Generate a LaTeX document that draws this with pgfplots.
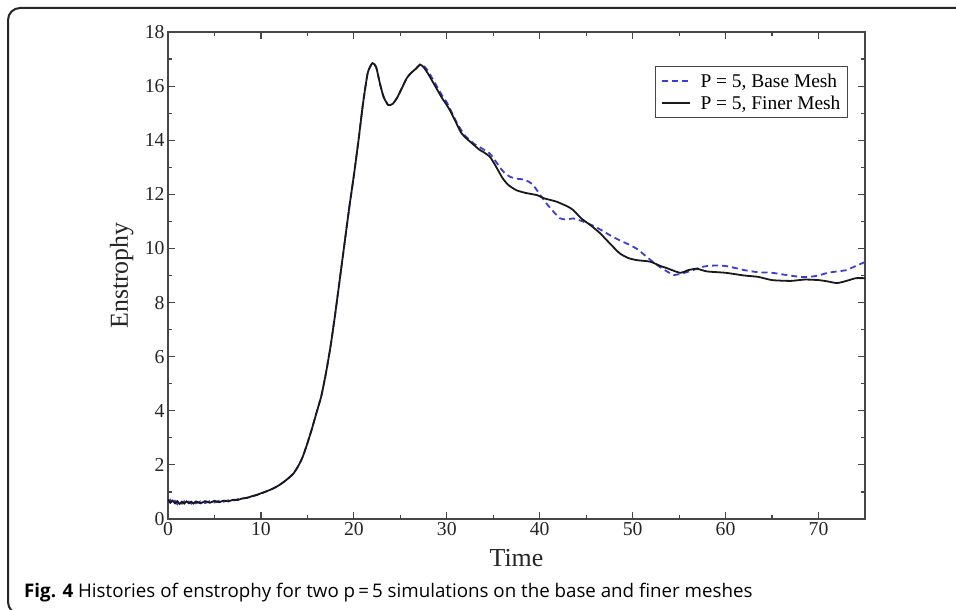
\documentclass[border=0pt]{standalone}
\usepackage{fontspec}
\setmainfont{Liberation Serif}
\newfontfamily\capfont{Open Sans}
\usepackage{pgfplots}
\pgfplotsset{compat=1.18}
\definecolor{baseblue}{RGB}{60,60,215}
\definecolor{axgray}{RGB}{70,70,70}
\begin{document}
\begin{tikzpicture}
\useasboundingbox (0bp,0bp) rectangle (956bp,610bp);
\begin{scope}
\clip (0bp,0bp) rectangle (956bp,610bp);
\draw[line width=2bp, color=black!85, rounded corners=12bp] (970bp,602bp) -- (8bp,602bp) -- (8bp,-4bp) -- (100bp,-4bp);
\end{scope}
\begin{axis}[
  at={(168bp,91bp)}, anchor=south west,
  width=697bp, height=487bp, scale only axis,
  xmin=0, xmax=75, ymin=0, ymax=18,
  xtick={0,10,...,70}, ytick={0,2,...,18},
  minor x tick num=1, minor y tick num=1,
  tick align=inside,
  major tick length=7bp, minor tick length=4bp,
  axis line style={axgray, line width=1.4bp},
  every tick/.style={axgray, line width=1.2bp},
  tick label style={font=\fontsize{19.8}{20}\selectfont, color=black!85},
  /pgf/number format/assume math mode=true,
  xlabel={Time}, ylabel={Enstrophy},
  label style={font=\fontsize{26}{26}\selectfont, color=black!85},
  xlabel style={at={(axis description cs:0.5,0)}, anchor=base, yshift=-47bp},
  ylabel style={at={(axis description cs:-0.0574,0.5)}, anchor=base},
  legend style={at={(rel axis cs:0.699,0.93)}, anchor=north west, draw=axgray, line width=1bp,
    font=\fontsize{19.5}{20}\selectfont, inner xsep=5bp, inner ysep=5bp, row sep=3bp,
    /tikz/every odd column/.append style={column sep=8bp}},
  legend cell align=left,
  legend image code/.code={\draw[#1] (0bp,0bp) -- (28bp,0bp);},
]
\addplot[baseblue, line width=1.8bp, dash pattern=on 6bp off 4bp, smooth, tension=0.35] coordinates {
(0,0.62) (0.25,0.71) (0.5,0.58) (0.75,0.67) (1,0.55) (1.25,0.66) (1.5,0.57) (1.75,0.65)
(2,0.56) (2.25,0.64) (2.5,0.57) (2.75,0.65) (3,0.58) (3.5,0.65) (4,0.59) (4.5,0.66)
(5,0.61) (5.5,0.67) (6,0.64) (6.5,0.69) (7,0.68) (7.5,0.73) (8,0.75) (8.5,0.79)
(9,0.83) (9.5,0.89) (10,0.94) (10.5,1.01) (11,1.08) (11.5,1.16) (12,1.26) (12.5,1.38)
(13,1.52) (13.5,1.68) (14,1.95) (14.5,2.30) (15,2.80) (15.5,3.35) (16,3.95) (16.5,4.55)
(17,5.4) (17.5,6.4) (18,7.6) (18.5,8.9) (19,10.2) (19.5,11.5) (20,12.7) (20.5,14.0)
(21,15.4) (21.5,16.5) (22,16.85) (22.4,16.7) (22.8,16.1) (23.2,15.6) (23.7,15.3) (24.2,15.35)
(24.7,15.6) (25.2,15.95) (25.7,16.3) (26.2,16.5) (26.7,16.65) (27.1,16.78) (27.6,16.72)
(28,16.55) (28.5,16.25) (29,15.95) (29.5,15.65) (30,15.4) (30.5,15.05) (31,14.7) (31.5,14.4)
(32,14.15) (32.5,14.0) (33,13.85) (33.5,13.75) (34,13.65) (34.65,13.5) (35.2,13.25)
(35.7,13.0) (36.2,12.8) (36.8,12.65) (37.5,12.58) (38.2,12.55) (38.8,12.47) (39.3,12.34)
(40,12.0) (40.7,11.67) (41.5,11.35) (42.2,11.11) (42.9,11.07) (43.6,11.11) (44.7,10.99)
(46,10.8) (47.5,10.5) (48.6,10.3) (49.7,10.13) (50.6,9.95) (51.5,9.69) (52.2,9.5) (52.9,9.32)
(53.7,9.15) (54.4,9.02) (55.4,9.08) (56.5,9.2) (57.3,9.3) (58,9.35) (59,9.37) (60,9.35)
(61,9.28) (62,9.2) (63.5,9.12) (65,9.1) (66.5,9.02) (68,8.95) (69,8.95) (70,9.0) (71,9.1)
(72,9.15) (73,9.2) (74,9.35) (75,9.5)
};
\addlegendentry{P = 5, Base Mesh}
\addplot[black!90, line width=1.8bp, smooth, tension=0.35] coordinates {
(0,0.72) (0.25,0.60) (0.5,0.68) (0.75,0.58) (1,0.66) (1.25,0.56) (1.5,0.64) (1.75,0.57)
(2,0.65) (2.25,0.58) (2.5,0.64) (2.75,0.57) (3,0.65) (3.5,0.58) (4,0.66) (4.5,0.60)
(5,0.67) (5.5,0.62) (6,0.68) (6.5,0.65) (7,0.71) (7.5,0.70) (8,0.76) (8.5,0.78)
(9,0.84) (9.5,0.88) (10,0.95) (10.5,1.01) (11,1.08) (11.5,1.16) (12,1.26) (12.5,1.38)
(13,1.52) (13.5,1.68) (14,1.95) (14.5,2.30) (15,2.80) (15.5,3.35) (16,3.95) (16.5,4.55)
(17,5.4) (17.5,6.4) (18,7.6) (18.5,8.9) (19,10.2) (19.5,11.5) (20,12.7) (20.5,14.0)
(21,15.4) (21.5,16.5) (22,16.85) (22.4,16.7) (22.8,16.1) (23.2,15.6) (23.7,15.3) (24.2,15.35)
(24.7,15.6) (25.2,15.95) (25.7,16.3) (26.2,16.5) (26.7,16.65) (27.1,16.8) (27.5,16.7)
(28,16.45) (28.5,16.15) (29,15.85) (29.5,15.55) (30,15.3) (30.5,15.0) (31,14.65) (31.5,14.3)
(32,14.1) (32.5,13.95) (33,13.8) (33.5,13.65) (34,13.55) (34.6,13.4) (35,13.2) (35.5,12.9)
(36,12.6) (36.6,12.35) (37.5,12.15) (38.5,12.05) (39.7,11.97) (40.5,11.85) (41.8,11.73)
(43,11.55) (43.6,11.42) (44.5,11.1) (45.5,10.85) (46.5,10.56) (47.5,10.2) (48.6,9.82)
(49.5,9.65) (50.4,9.57) (51.9,9.51) (53,9.35) (53.7,9.27) (55.1,9.1) (56,9.2) (56.9,9.25)
(58,9.15) (60,9.1) (62,9.0) (63.5,8.95) (65,8.83) (67,8.8) (68.5,8.85) (70,8.83) (71,8.78)
(72,8.72) (73,8.8) (74,8.9) (75,8.9)
};
\addlegendentry{P = 5, Finer Mesh}
\end{axis}
\node[anchor=base west, inner sep=0pt] at (24bp,13bp) {\capfont\fontsize{18.8}{19}\selectfont\textbf{Fig. 4} Histories of enstrophy for two p\,=\,5 simulations on the base and finer meshes};
\end{tikzpicture}
\end{document}
